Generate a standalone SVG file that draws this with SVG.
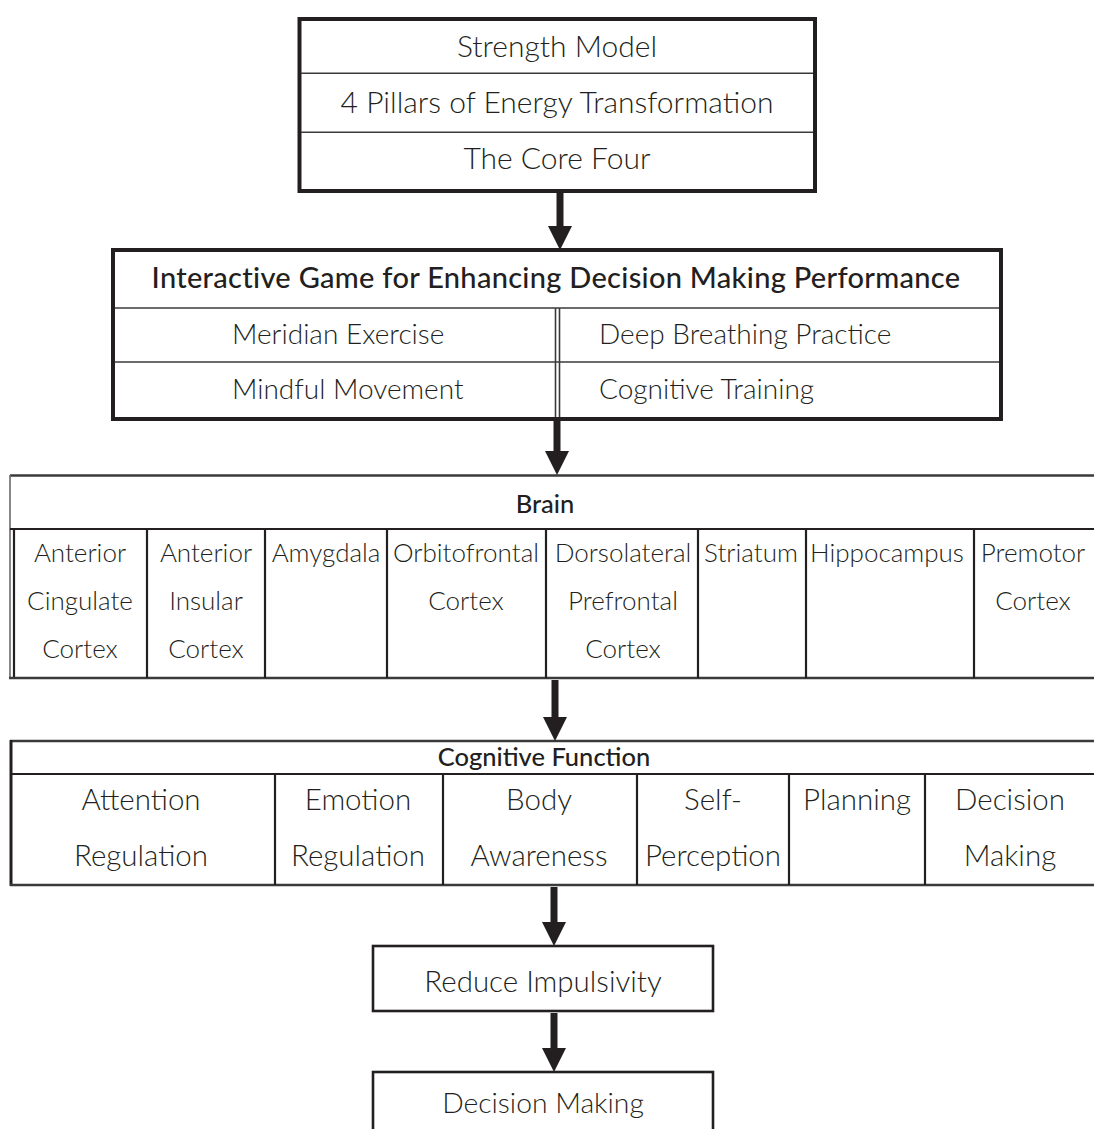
<svg xmlns="http://www.w3.org/2000/svg" width="1094" height="1129" viewBox="0 0 1094 1129">
  <style>
    .bg { fill: #ffffff; }
    .frame { fill: none; stroke: #231f20; stroke-width: 4; }
    .thin { stroke: #3a3a3a; stroke-width: 1.6; fill: none; }
    .rule { stroke: #231f20; stroke-width: 2.2; fill: none; }
    .edge { stroke: #3a3a3a; stroke-width: 2.6; fill: none; }
    .soft { stroke: #6a6a6a; stroke-width: 1.6; fill: none; }
    .box { fill: #ffffff; stroke: #231f20; stroke-width: 2.6; }
    text { font-family: "Lato", "Open Sans", "Liberation Sans", sans-serif; fill: #231f20; font-weight: 300; }
    .c { text-anchor: middle; }
    .l { text-anchor: start; }
    .big { font-size: 30px; }
    .mid { font-size: 28px; }
    .cell { font-size: 26px; }
    .fn { font-size: 29.5px; }
    .end { font-size: 28.3px; }
    .head { font-size: 25.5px; font-weight: 500; }
    .title { font-size: 29px; font-weight: 500; letter-spacing: 0.3px; }
    .arrow { stroke: #231f20; stroke-width: 7; fill: none; marker-end: url(#head); }
  </style>
  <defs>
    <marker id="head" markerUnits="userSpaceOnUse" viewBox="0 0 24 24" markerWidth="24" markerHeight="24" refX="0" refY="12" orient="auto">
      <path d="M0,0 L24,12 L0,24 Z" fill="#231f20"/>
    </marker>
  </defs>

  <rect class="bg" x="0" y="0" width="1094" height="1129"/>

  <!-- theoretical models -->
  <g id="models">
    <rect class="frame" x="299.5" y="19" width="515.5" height="172"/>
    <line class="thin" x1="301" y1="73.3" x2="813" y2="73.3"/>
    <line class="thin" x1="301" y1="132.3" x2="813" y2="132.3"/>
    <text class="c big" x="557" y="57">Strength Model</text>
    <text class="c big" x="557" y="113">4 Pillars of Energy Transformation</text>
    <text class="c big" x="557" y="169">The Core Four</text>
  </g>

  <!-- interactive game and its four activities -->
  <g id="game">
    <rect class="frame" x="113" y="250" width="888" height="169"/>
    <line class="thin" x1="115" y1="308" x2="999" y2="308"/>
    <line class="thin" x1="115" y1="362" x2="999" y2="362"/>
    <line class="thin" x1="555.5" y1="308" x2="555.5" y2="417"/>
    <line class="thin" x1="559.5" y1="308" x2="559.5" y2="417"/>
    <text class="c title" x="556" y="288">Interactive Game for Enhancing Decision Making Performance</text>
    <text class="l mid" x="232" y="344">Meridian Exercise</text>
    <text class="l mid" x="599" y="344">Deep Breathing Practice</text>
    <text class="l mid" x="232" y="399">Mindful Movement</text>
    <text class="l mid" x="599" y="399">Cognitive Training</text>
  </g>

  <!-- brain regions -->
  <g id="brain">
    <line class="edge" x1="10" y1="475.5" x2="1100" y2="475.5"/>
    <line class="soft" x1="10" y1="475" x2="10" y2="678"/>
    <line class="rule" x1="14" y1="529" x2="14" y2="678"/>
    <line class="rule" x1="10" y1="529" x2="1100" y2="529"/>
    <line class="edge" x1="9" y1="678" x2="1100" y2="678"/>
    <line class="rule" x1="147" y1="529" x2="147" y2="678"/>
    <line class="rule" x1="265" y1="529" x2="265" y2="678"/>
    <line class="rule" x1="387" y1="529" x2="387" y2="678"/>
    <line class="rule" x1="546" y1="529" x2="546" y2="678"/>
    <line class="rule" x1="698" y1="529" x2="698" y2="678"/>
    <line class="rule" x1="806" y1="529" x2="806" y2="678"/>
    <line class="rule" x1="974" y1="529" x2="974" y2="678"/>
    <text class="c head" x="545" y="513">Brain</text>
    <text class="c cell" x="80" y="562">Anterior</text>
    <text class="c cell" x="80" y="610">Cingulate</text>
    <text class="c cell" x="80" y="658">Cortex</text>
    <text class="c cell" x="206" y="562">Anterior</text>
    <text class="c cell" x="206" y="610">Insular</text>
    <text class="c cell" x="206" y="658">Cortex</text>
    <text class="c cell" x="326" y="562">Amygdala</text>
    <text class="c cell" x="466" y="562">Orbitofrontal</text>
    <text class="c cell" x="466" y="610">Cortex</text>
    <text class="c cell" x="623" y="562">Dorsolateral</text>
    <text class="c cell" x="623" y="610">Prefrontal</text>
    <text class="c cell" x="623" y="658">Cortex</text>
    <text class="c cell" x="751" y="562">Striatum</text>
    <text class="c cell" x="887" y="562">Hippocampus</text>
    <text class="c cell" x="1033" y="562">Premotor</text>
    <text class="c cell" x="1033" y="610">Cortex</text>
  </g>

  <!-- cognitive functions -->
  <g id="cognitive-function">
    <line class="edge" x1="10" y1="741" x2="1100" y2="741"/>
    <line class="frame" x1="11" y1="740" x2="11" y2="886" style="stroke-width:3"/>
    <line class="rule" x1="11" y1="774" x2="1100" y2="774"/>
    <line class="edge" x1="10" y1="885" x2="1100" y2="885"/>
    <line class="rule" x1="275" y1="774" x2="275" y2="885"/>
    <line class="rule" x1="443" y1="774" x2="443" y2="885"/>
    <line class="rule" x1="637" y1="774" x2="637" y2="885"/>
    <line class="rule" x1="789" y1="774" x2="789" y2="885"/>
    <line class="rule" x1="925" y1="774" x2="925" y2="885"/>
    <text class="c head" x="544" y="766">Cognitive Function</text>
    <text class="c fn" x="141" y="810">Attention</text>
    <text class="c fn" x="141" y="866">Regulation</text>
    <text class="c fn" x="358" y="810">Emotion</text>
    <text class="c fn" x="358" y="866">Regulation</text>
    <text class="c fn" x="539" y="810">Body</text>
    <text class="c fn" x="539" y="866">Awareness</text>
    <text class="c fn" x="713" y="810">Self-</text>
    <text class="c fn" x="713" y="866">Perception</text>
    <text class="c fn" x="857" y="810">Planning</text>
    <text class="c fn" x="1010" y="810">Decision</text>
    <text class="c fn" x="1010" y="866">Making</text>
  </g>

  <g id="reduce-impulsivity">
    <rect class="box" x="373" y="946" width="340" height="65"/>
    <text class="c fn" x="543" y="992">Reduce Impulsivity</text>
  </g>

  <g id="decision-making">
    <rect class="box" x="373" y="1072" width="340" height="80"/>
    <text class="c end" x="543" y="1113">Decision Making</text>
  </g>

  <!-- downward flow -->
  <g id="connectors">
    <line class="arrow" x1="560" y1="193" x2="560" y2="226"/>
    <line class="arrow" x1="557" y1="421" x2="557" y2="451"/>
    <line class="arrow" x1="555" y1="680" x2="555" y2="717"/>
    <line class="arrow" x1="554" y1="887" x2="554" y2="922"/>
    <line class="arrow" x1="554" y1="1013" x2="554" y2="1048"/>
  </g>
</svg>
